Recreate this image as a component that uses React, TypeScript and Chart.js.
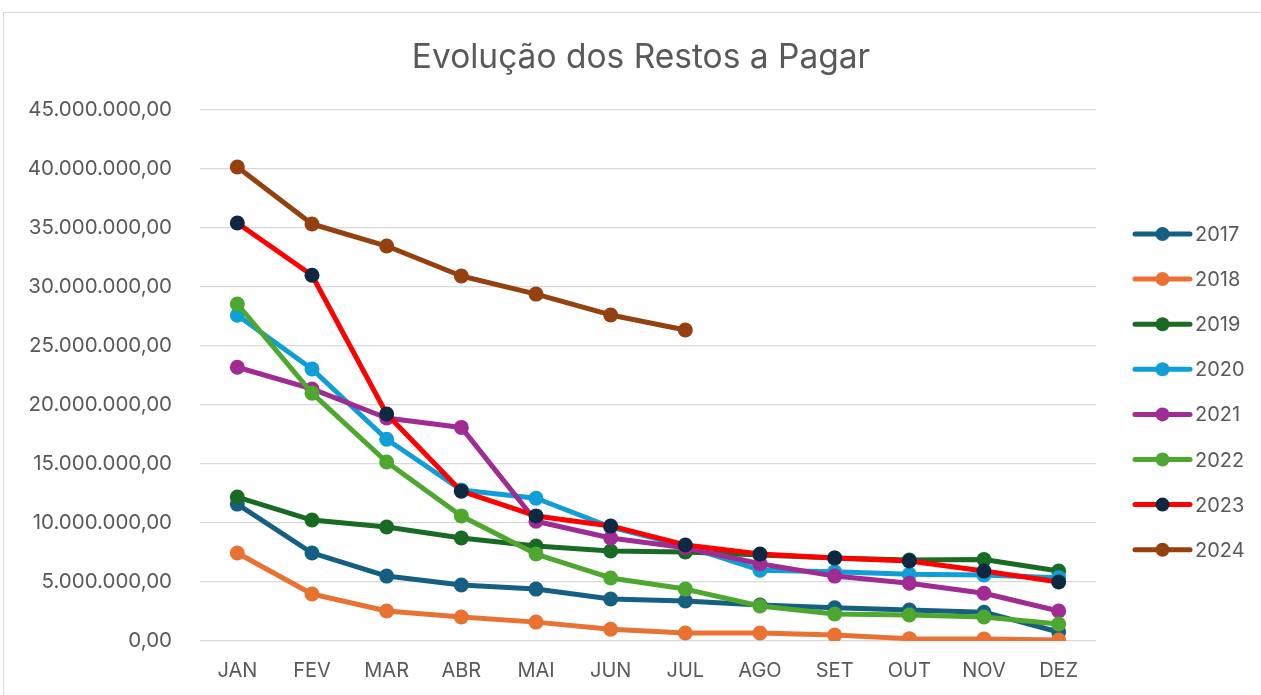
import React, { useEffect, useRef } from "react";
import { Chart, registerables } from "chart.js";

Chart.register(...registerables);

const months = ["JAN", "FEV", "MAR", "ABR", "MAI", "JUN", "JUL", "AGO", "SET", "OUT", "NOV", "DEZ"];
const yTicks = [0, 5000000, 10000000, 15000000, 20000000, 25000000, 30000000, 35000000, 40000000, 45000000];

const s2017 = [11600000, 7460000, 5500000, 4750000, 4400000, 3560000, 3390000, 3050000, 2820000, 2630000, 2440000, 760000];
const s2018 = [7460000, 3980000, 2540000, 2030000, 1600000, 1000000, 680000, 680000, 500000, 200000, 180000, 80000];
const s2019 = [12200000, 10250000, 9660000, 8730000, 8050000, 7630000, 7540000, 7290000, 7030000, 6860000, 6900000, 5930000];
const s2020 = [27600000, 23050000, 17100000, 12800000, 12100000, 9660000, 8050000, 6000000, 5870000, 5650000, 5600000, 5370000];
const s2021 = [23200000, 21360000, 18900000, 18100000, 10150000, 8730000, 7900000, 6550000, 5500000, 4900000, 4050000, 2540000];
const s2022 = [28560000, 21000000, 15170000, 10600000, 7370000, 5340000, 4400000, 2970000, 2290000, 2200000, 2030000, 1440000];
const s2023 = [35420000, 31000000, 19240000, 12700000, 10600000, 9750000, 8140000, 7370000, 7030000, 6780000, 5930000, 5000000];
const s2024 = [40170000, 35340000, 33470000, 30930000, 29400000, 27630000, 26360000, null, null, null, null, null];

const seriesNames = ["2017", "2018", "2019", "2020", "2021", "2022", "2023", "2024"];
const seriesData = [s2017, s2018, s2019, s2020, s2021, s2022, s2023, s2024];
const lineColors = ["#156082", "#E97132", "#196B24", "#0F9ED5", "#A02B93", "#4EA72E", "#FF0000", "#95400F"];
const markerColors = ["#156082", "#E97132", "#196B24", "#0F9ED5", "#A02B93", "#4EA72E", "#0E2841", "#95400F"];

const FONT = "Inter, 'Open Sans', sans-serif";
const TEXT = "#595959";

function fmtBR(v: number): string {
  const intPart = Math.round(Math.abs(v)).toString().replace(/\B(?=(\d{3})+(?!\d))/g, ".");
  return (v < 0 ? "-" : "") + intPart + ",00";
}

const decorPlugin = {
  id: "decor",
  beforeDraw(chart: any) {
    const ctx = chart.ctx;
    ctx.save();
    ctx.fillStyle = "#ffffff";
    ctx.fillRect(0, 0, chart.width, chart.height);
    ctx.strokeStyle = "#d9d9d9";
    ctx.lineWidth = 1;
    ctx.strokeRect(3.5, 12.5, chart.width + 20, chart.height + 20);
    ctx.restore();
  },
  afterDraw(chart: any) {
    const ctx = chart.ctx;
    ctx.save();
    // title
    ctx.fillStyle = TEXT;
    ctx.font = `33.5px ${FONT}`;
    ctx.textAlign = "center";
    ctx.textBaseline = "middle";
    ctx.fillText("Evolução dos Restos a Pagar", 641, 58);
    // legend
    const x0 = 1135;
    const x1 = 1190;
    const startY = 234;
    const step = 45.1;
    ctx.font = `20px ${FONT}`;
    ctx.textAlign = "left";
    chart.data.datasets.forEach((ds: any, i: number) => {
      const y = startY + i * step;
      ctx.strokeStyle = ds.borderColor;
      ctx.lineWidth = 5;
      ctx.lineCap = "round";
      ctx.beginPath();
      ctx.moveTo(x0, y);
      ctx.lineTo(x1, y);
      ctx.stroke();
      ctx.fillStyle = ds.pointBackgroundColor;
      ctx.beginPath();
      ctx.arc((x0 + x1) / 2, y, 7, 0, Math.PI * 2);
      ctx.fill();
      ctx.fillStyle = TEXT;
      ctx.fillText(ds.label, 1195, y + 1);
    });
    ctx.restore();
  },
};

export default function App() {
  const ref = useRef<HTMLCanvasElement | null>(null);

  useEffect(() => {
    document.body.style.margin = "0";
    if (!ref.current) return;
    const chart = new Chart(ref.current, {
      type: "line",
      data: {
        labels: months,
        datasets: seriesNames.map((name, i) => ({
          label: name,
          data: seriesData[i],
          borderColor: lineColors[i],
          backgroundColor: markerColors[i],
          pointBackgroundColor: markerColors[i],
          pointBorderColor: markerColors[i],
          pointBorderWidth: 0,
          pointRadius: 7.5,
          borderWidth: 5,
          tension: 0,
          fill: false,
          spanGaps: false,
          order: seriesNames.length - i,
          borderJoinStyle: "round" as const,
          borderCapStyle: "round" as const,
        })),
      },
      options: {
        responsive: false,
        animation: false,
        devicePixelRatio: 1,
        layout: { padding: { top: 110, right: 165, left: 0, bottom: 0 } },
        plugins: {
          legend: { display: false },
          title: { display: false },
          tooltip: { enabled: false },
        },
        scales: {
          x: {
            offset: true,
            grid: { display: false, drawTicks: false },
            border: { display: false },
            ticks: { color: TEXT, font: { family: FONT, size: 20 }, padding: 18, maxRotation: 0 },
            afterFit(scale: any) {
              scale.height = 54;
            },
          },
          y: {
            min: 0,
            max: 45000000,
            afterBuildTicks(scale: any) {
              scale.ticks = yTicks.map((v) => ({ value: v }));
            },
            grid: { color: "#d9d9d9", lineWidth: 1.3, drawTicks: false },
            border: { display: false },
            ticks: {
              color: TEXT,
              font: { family: FONT, size: 20.5 },
              padding: 28,
              callback: (v: any) => fmtBR(Number(v)),
            },
            afterFit(scale: any) {
              scale.width = 200;
            },
          },
        },
      },
      plugins: [decorPlugin],
    });
    return () => chart.destroy();
  }, []);

  return (
    <div style={{ position: "absolute", left: 0, top: 0, width: 1261, height: 695 }}>
      <canvas ref={ref} width={1261} height={695} style={{ width: 1261, height: 695 }} />
    </div>
  );
}
